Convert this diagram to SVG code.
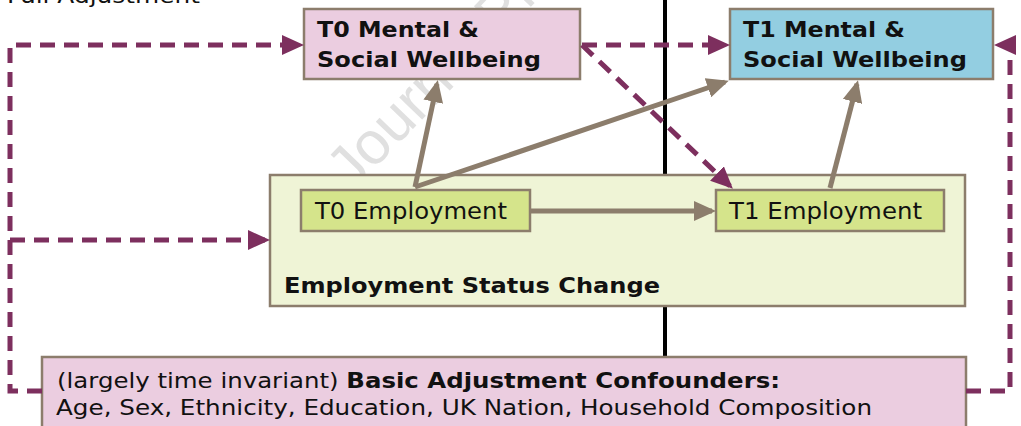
<svg xmlns="http://www.w3.org/2000/svg" width="1021" height="426" viewBox="0 0 1021 426">
  <style>
    .box { stroke: #8c7d6c; stroke-width: 2.5; }
    .pink { fill: #ebcde0; }
    .blue { fill: #93cee1; }
    .pale { fill: #eff4d6; }
    .green { fill: #d5e48b; }
    .t { font-family: "DejaVu Sans", Verdana, sans-serif; fill: #111; }
    .b { font-weight: bold; }
    .dash { fill: none; stroke: #7d2f5e; stroke-width: 5; stroke-dasharray: 15 9; }
    .solid { fill: none; stroke: #8c7d6c; stroke-width: 5; }
    .wm { font-family: "Liberation Sans", Arial, sans-serif; font-size: 60px; fill: #e0e0e0; }
  </style>
  <defs>
    <marker id="headP" markerUnits="userSpaceOnUse" markerWidth="22" markerHeight="20" viewBox="0 0 22 20" refX="18" refY="10" orient="auto">
      <path d="M0,0 L22,10 L0,20 z" fill="#7d2f5e"/>
    </marker>
    <marker id="headB" markerUnits="userSpaceOnUse" markerWidth="22" markerHeight="20" viewBox="0 0 22 20" refX="18" refY="10" orient="auto">
      <path d="M0,0 L22,10 L0,20 z" fill="#8c7d6c"/>
    </marker>
  </defs>

  <rect width="1021" height="426" fill="#ffffff"/>

  <!-- heading, partly above the top edge -->
  <text class="t" x="7" y="3" font-size="21" textLength="193" lengthAdjust="spacingAndGlyphs">Full Adjustment</text>

  <!-- watermark -->
  <text class="wm" x="352" y="192" transform="rotate(-46 352 192)">Journal Pre-proof</text>

  <!-- time divider -->
  <line x1="665" y1="0" x2="665" y2="358" stroke="#000" stroke-width="4"/>

  <g id="employment-status-change">
    <rect class="box pale" x="270" y="175" width="695" height="131"/>
    <text class="t b" x="284" y="293" font-size="22" textLength="376" lengthAdjust="spacingAndGlyphs">Employment Status Change</text>
  </g>

  <g id="t0-wellbeing">
    <rect class="box pink" x="304" y="9" width="276" height="70"/>
    <text class="t b" x="317" y="37" font-size="21.5" textLength="162" lengthAdjust="spacingAndGlyphs">T0 Mental &amp;</text>
    <text class="t b" x="317" y="67" font-size="21.5" textLength="224" lengthAdjust="spacingAndGlyphs">Social Wellbeing</text>
  </g>

  <g id="t1-wellbeing">
    <rect class="box blue" x="730" y="9" width="263" height="70"/>
    <text class="t b" x="743" y="37" font-size="21.5" textLength="162" lengthAdjust="spacingAndGlyphs">T1 Mental &amp;</text>
    <text class="t b" x="743" y="67" font-size="21.5" textLength="224" lengthAdjust="spacingAndGlyphs">Social Wellbeing</text>
  </g>

  <g id="t0-employment">
    <rect class="box green" x="301" y="190" width="229" height="41"/>
    <text class="t" x="315" y="219" font-size="22.5" textLength="192" lengthAdjust="spacingAndGlyphs">T0 Employment</text>
  </g>

  <g id="t1-employment">
    <rect class="box green" x="716" y="190" width="228" height="41"/>
    <text class="t" x="729" y="219" font-size="22.5" textLength="193" lengthAdjust="spacingAndGlyphs">T1 Employment</text>
  </g>

  <g id="confounders">
    <rect class="box pink" x="42" y="357" width="924" height="80"/>
    <text class="t" x="57" y="388" font-size="20.5" textLength="723" lengthAdjust="spacingAndGlyphs">(largely time invariant) <tspan class="b">Basic Adjustment Confounders:</tspan></text>
    <text class="t" x="56" y="415" font-size="20.5" textLength="816" lengthAdjust="spacingAndGlyphs">Age, Sex, Ethnicity, Education, UK Nation, Household Composition</text>
  </g>

  <g id="connectors">
    <path class="dash" d="M42,391 H10 V45 H300" marker-end="url(#headP)"/>
    <path class="dash" d="M10,240 H266" marker-end="url(#headP)"/>
    <path class="dash" d="M966,391 H1010 V45 H998" marker-end="url(#headP)"/>
    <path class="dash" d="M582,45 H726" marker-end="url(#headP)"/>
    <path class="dash" d="M582,45 L730,186" marker-end="url(#headP)"/>
    <path class="solid" d="M415,187 L437,84" marker-end="url(#headB)"/>
    <path class="solid" d="M415,187 L725,82" marker-end="url(#headB)"/>
    <path class="solid" d="M531,211 H712" marker-end="url(#headB)"/>
    <path class="solid" d="M830,188 L857,84" marker-end="url(#headB)"/>
  </g>
</svg>
